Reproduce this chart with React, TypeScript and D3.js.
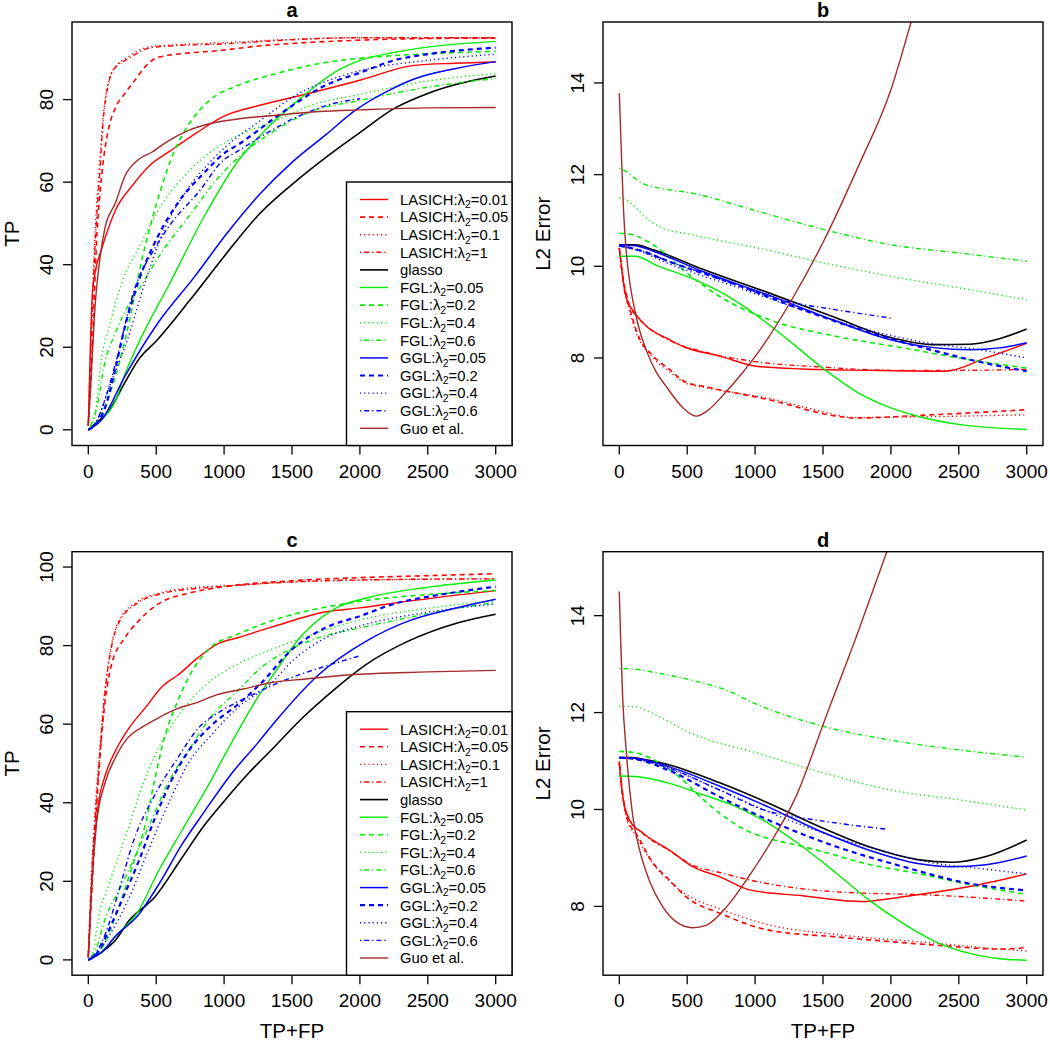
import React from 'react';
import * as d3 from 'd3';

type Pt = [number, number];

const FONT = "'Liberation Sans', Arial, Helvetica, sans-serif";

// tick values
const xTicks = [0, 500, 1000, 1500, 2000, 2500, 3000];
const tpTicksA = [0, 20, 40, 60, 80];
const tpTicksC = [0, 20, 40, 60, 80, 100];
const errTicks = [8, 10, 12, 14];

// legend / series definitions (same order in every panel)
const methodNames = ['LASICH', 'LASICH', 'LASICH', 'LASICH', 'glasso', 'FGL', 'FGL', 'FGL', 'FGL', 'GGL', 'GGL', 'GGL', 'GGL', 'Guo et al.'];
const lambdaValues = ['0.01', '0.05', '0.1', '1', '', '0.05', '0.2', '0.4', '0.6', '0.05', '0.2', '0.4', '0.6', ''];
const lineColors = ['#ff0000', '#ff0000', '#ff0000', '#ff0000', '#000000', '#00ee00', '#00ee00', '#00ee00', '#00ee00', '#0000ff', '#0000ff', '#0000ff', '#0000ff', '#a52a2a'];
const lineTypes = ['solid', 'dashed', 'dotted', 'dotdash', 'solid', 'solid', 'dashed', 'dotted', 'dotdash', 'solid', 'dashed', 'dotted', 'dotdash', 'solid'];
const lineWidths = [1.4, 1.6, 1.4, 1.4, 1.6, 1.4, 1.6, 1.4, 1.4, 1.5, 2.2, 1.4, 1.4, 1.4];

// panel a: TP vs TP+FP
const panelA: Pt[][] = [
  [[0, 1], [15, 20], [30, 33], [50, 38], [100, 44], [150, 49], [200, 53.2], [320, 59], [450, 64], [600, 67.5], [800, 72], [1000, 76], [1250, 78.5], [1500, 80.5], [2000, 84.7], [2400, 88.3], [2700, 88.8], [3000, 89.1]],
  [[0, 1], [30, 20], [60, 45], [100, 62], [150, 73], [200, 78], [270, 81.5], [350, 85], [420, 88], [520, 90.3], [1000, 92], [1260, 93], [1500, 93.6], [2000, 94.4], [2500, 94.8], [3000, 94.9]],
  [[0, 1], [20, 22], [50, 48], [80, 63], [110, 76], [150, 84.5], [180, 87], [300, 90.5], [450, 92.8], [600, 93.2], [1000, 93.8], [1500, 94.6], [2000, 95], [3000, 95]],
  [[0, 1], [20, 20], [50, 45], [80, 60], [110, 75], [150, 84], [180, 87], [300, 90], [450, 92.5], [600, 93], [1000, 93.5], [1500, 94.5], [2000, 95], [3000, 95]],
  [[0, 0], [50, 1.5], [150, 4.5], [270, 11.5], [370, 17], [500, 21.5], [750, 31.5], [1000, 42], [1260, 52.3], [1550, 60.8], [1750, 66], [2000, 72], [2250, 77.8], [2500, 81.5], [2750, 84], [3000, 85.7]],
  [[0, 0], [100, 2.5], [200, 7], [270, 13.5], [370, 21], [600, 35.5], [850, 51.5], [1100, 65], [1300, 72.5], [1550, 80], [1850, 87.3], [2000, 89.5], [2250, 91.4], [2500, 92.7], [3000, 94.1]],
  [[0, 0], [100, 4], [200, 13], [300, 26], [400, 42], [500, 54.5], [640, 68], [740, 74], [900, 80], [1100, 83.4], [1350, 86], [1750, 89], [2000, 90], [2500, 91.1], [3000, 91.7]],
  [[0, 0], [50, 4], [100, 18], [150, 24.5], [250, 36], [370, 44], [540, 54.5], [735, 62.5], [930, 68], [1150, 72], [1350, 74.5], [1630, 78.5], [2000, 81.3], [2500, 84.5], [3000, 86.3]],
  [[0, 0], [60, 5], [120, 16], [200, 23.5], [300, 30.5], [380, 34.5], [540, 43], [735, 51.5], [955, 61], [1150, 67.3], [1350, 72], [1630, 77], [2000, 79.8], [2500, 83], [3000, 85.1]],
  [[0, 0], [100, 2.5], [270, 13], [515, 26], [780, 37], [1030, 48], [1260, 57], [1500, 64.8], [1750, 71.5], [1970, 77.5], [2200, 82], [2400, 85], [2700, 87.5], [3000, 89.2]],
  [[0, 0], [60, 1.5], [120, 5], [200, 15], [270, 25], [370, 36], [515, 47], [660, 55], [860, 62.5], [1000, 67], [1100, 69], [1350, 75], [1500, 78.5], [1750, 83.5], [2000, 86.5], [2250, 89.5], [2500, 91], [3000, 92.6]],
  [[0, 0], [60, 2], [150, 10], [290, 22], [420, 36], [560, 48.5], [735, 58.5], [900, 65], [1100, 71], [1250, 74.5], [1350, 77], [1550, 81.5], [1800, 85], [2000, 87], [2500, 89.5], [3000, 91]],
  [[0, 0], [60, 2], [130, 8], [200, 16], [340, 34], [490, 44], [610, 50], [810, 57.5], [1000, 65.5], [1100, 67.5], [1320, 72], [1550, 76], [1800, 79], [2000, 80.2]],
  [[0, 1], [20, 12], [50, 30], [80, 40], [120, 48.5], [200, 55], [270, 61.5], [370, 65.5], [470, 67.3], [590, 70], [735, 72.5], [900, 74.2], [1100, 75.3], [1350, 76.1], [1700, 77.1], [2000, 77.5], [2500, 78], [3000, 78.1]],
];

// panel b: L2 error vs TP+FP
const panelB: Pt[][] = [
  [[0, 10.4], [50, 9.34], [125, 8.94], [200, 8.69], [370, 8.4], [470, 8.25], [740, 8.04], [1010, 7.82], [1350, 7.76], [1850, 7.73], [2400, 7.71], [2700, 8.0], [3000, 8.32]],
  [[0, 10.4], [30, 9.7], [60, 9.3], [125, 8.6], [250, 8.04], [370, 7.75], [490, 7.47], [620, 7.38], [1100, 7.09], [1600, 6.73], [1720, 6.69], [2300, 6.76], [3000, 6.87]],
  [[0, 10.4], [30, 9.65], [60, 9.2], [125, 8.55], [250, 8.0], [370, 7.7], [490, 7.45], [620, 7.36], [1100, 7.12], [1600, 6.76], [1720, 6.7], [2300, 6.72], [3000, 6.76]],
  [[0, 10.4], [50, 9.3], [125, 8.92], [200, 8.7], [370, 8.38], [600, 8.15], [1000, 7.92], [1500, 7.8], [2000, 7.73], [2500, 7.73], [3000, 7.75]],
  [[0, 10.47], [120, 10.47], [250, 10.36], [620, 9.93], [1100, 9.42], [1600, 8.87], [1970, 8.47], [2330, 8.29], [2580, 8.3], [2800, 8.42], [3000, 8.63]],
  [[0, 10.22], [115, 10.22], [290, 10.0], [530, 9.74], [780, 9.38], [1020, 8.91], [1270, 8.33], [1510, 7.75], [1760, 7.24], [2000, 6.91], [2250, 6.69], [2500, 6.55], [3000, 6.44]],
  [[0, 10.72], [80, 10.7], [250, 10.47], [500, 9.85], [740, 9.34], [1100, 8.84], [1600, 8.47], [2090, 8.22], [2580, 7.96], [3000, 7.78]],
  [[0, 11.49], [50, 11.45], [115, 11.3], [200, 11.05], [290, 10.87], [530, 10.69], [1020, 10.4], [1510, 10.07], [2000, 9.78], [2500, 9.53], [3000, 9.27]],
  [[0, 12.14], [60, 12.05], [115, 11.92], [165, 11.82], [290, 11.71], [530, 11.6], [1020, 11.2], [1510, 10.8], [2000, 10.47], [2500, 10.29], [3000, 10.11]],
  [[0, 10.47], [120, 10.45], [250, 10.33], [620, 9.88], [1100, 9.37], [1600, 8.8], [1970, 8.42], [2330, 8.22], [2580, 8.18], [2800, 8.22], [3000, 8.33]],
  [[0, 10.45], [150, 10.35], [370, 10.1], [860, 9.6], [1350, 9.05], [1850, 8.55], [2330, 8.15], [2600, 7.95], [3000, 7.71]],
  [[0, 10.45], [150, 10.33], [370, 10.05], [860, 9.55], [1350, 9.05], [1850, 8.6], [2330, 8.3], [2600, 8.2], [3000, 8.0]],
  [[0, 10.45], [150, 10.35], [370, 10.1], [620, 9.85], [1000, 9.45], [1230, 9.24], [1600, 9.05], [2000, 8.87]],
  [[0, 13.78], [15, 12.5], [30, 11.3], [50, 10.36], [75, 9.7], [110, 9.1], [150, 8.6], [200, 8.16], [270, 7.7], [345, 7.38], [470, 6.91], [567, 6.73], [650, 6.85], [780, 7.24], [900, 7.65], [1020, 8.11], [1270, 9.27], [1510, 10.58], [1760, 12.18], [2000, 13.85], [2150, 15.34], [2200, 15.85]],
];

// panel c: TP vs TP+FP
const panelC: Pt[][] = [
  [[0, 0.5], [20, 15], [40, 28], [75, 40], [120, 46.5], [200, 53.2], [300, 59], [420, 64.2], [550, 69.8], [660, 72.5], [810, 77], [950, 80.4], [1100, 82], [1350, 84.7], [1750, 88.6], [2000, 89.6], [2400, 91.5], [3000, 94]],
  [[0, 1], [30, 20], [70, 44], [110, 61.5], [170, 75], [270, 82], [370, 86.3], [515, 90.6], [760, 93.5], [1000, 95], [1500, 96.5], [2000, 97.3], [2500, 97.8], [3000, 98.3]],
  [[0, 1], [20, 20], [50, 38], [85, 54], [120, 68], [170, 80], [220, 86], [370, 91.4], [515, 93.3], [850, 95], [1000, 95.2], [1500, 96.2], [2000, 96.7], [3000, 97]],
  [[0, 1], [20, 18], [50, 36], [85, 52], [120, 67], [170, 79.5], [220, 85.5], [370, 91], [515, 93], [850, 94.7], [1000, 95.1], [1500, 96.2], [2000, 96.7], [3000, 97]],
  [[0, 0], [100, 2], [200, 5], [300, 10], [490, 16], [690, 26], [860, 34.5], [1000, 40.4], [1180, 47.5], [1350, 53.5], [1580, 61.7], [1800, 68.5], [2050, 75.3], [2360, 81.2], [2730, 85.9], [3000, 88]],
  [[0, 0], [100, 2], [200, 6], [370, 12.5], [515, 22.5], [690, 33], [860, 43], [1050, 55], [1260, 67.5], [1350, 72], [1580, 82.9], [1820, 89.5], [2070, 92.3], [2490, 94.8], [3000, 96.7]],
  [[0, 0], [100, 3], [200, 11], [320, 23.4], [420, 34.5], [490, 46], [560, 56.5], [660, 66], [780, 74.4], [900, 79.5], [1100, 82.9], [1350, 86.3], [1950, 91], [2500, 93], [3000, 94]],
  [[0, 0], [40, 3], [75, 10.7], [150, 19], [290, 33], [390, 43.5], [490, 52], [660, 62], [900, 71], [1100, 75.3], [1350, 79], [1750, 84], [2000, 86.5], [2500, 89.5], [3000, 91.4]],
  [[0, 0], [60, 3], [120, 10], [245, 19], [440, 33.6], [610, 46.5], [735, 53.2], [900, 61.7], [1100, 68.5], [1260, 74], [1630, 81.2], [2000, 84.5], [2240, 86.3], [2600, 88.8], [3000, 91]],
  [[0, 0], [100, 2], [200, 6], [370, 11.5], [515, 19], [690, 29.4], [860, 38], [1050, 47.2], [1250, 55.3], [1380, 60.8], [1700, 72.7], [2050, 81.2], [2360, 86.3], [2700, 89.5], [3000, 91.8]],
  [[0, 0], [60, 1.5], [130, 6], [245, 15], [370, 25], [490, 36], [610, 45.5], [735, 53], [900, 59.5], [1100, 65], [1260, 70], [1500, 79], [1750, 84.6], [2000, 87.5], [2240, 90.5], [2600, 93], [3000, 95]],
  [[0, 0], [60, 1.5], [150, 6], [290, 15], [440, 27.7], [610, 41.3], [735, 50], [900, 57], [1100, 64.2], [1350, 70.5], [1500, 76], [1750, 82], [2000, 85], [2500, 88.5], [3000, 90.6]],
  [[0, 0], [60, 2], [130, 7], [220, 17], [330, 30], [490, 42], [660, 51.5], [810, 59], [980, 63.4], [1180, 67], [1300, 69], [1500, 71.9], [1750, 74.8], [2000, 77.4]],
  [[0, 0.5], [25, 19], [60, 34.5], [120, 44.7], [200, 51.5], [290, 56.5], [390, 59.1], [510, 61.5], [660, 64], [800, 65.5], [950, 67.5], [1150, 69], [1350, 70.6], [1600, 71.5], [1900, 72.5], [2500, 73.3], [3000, 73.7]],
];

// panel d: L2 error vs TP+FP
const panelD: Pt[][] = [
  [[0, 10.99], [15, 10.5], [30, 10.2], [75, 9.78], [175, 9.51], [370, 9.16], [540, 8.82], [740, 8.61], [960, 8.34], [1350, 8.22], [1780, 8.1], [2090, 8.2], [2580, 8.41], [3000, 8.67]],
  [[0, 10.95], [30, 10.2], [60, 9.8], [125, 9.5], [250, 8.89], [370, 8.54], [490, 8.2], [740, 7.86], [1100, 7.51], [1600, 7.37], [2330, 7.2], [2800, 7.12], [3000, 7.15]],
  [[0, 10.95], [30, 10.15], [60, 9.75], [125, 9.45], [250, 8.87], [370, 8.52], [490, 8.25], [740, 7.95], [1100, 7.62], [1600, 7.42], [2330, 7.24], [2800, 7.12], [3000, 7.08]],
  [[0, 10.99], [30, 10.2], [75, 9.8], [175, 9.5], [370, 9.15], [540, 8.85], [740, 8.7], [1000, 8.52], [1600, 8.3], [2330, 8.23], [3000, 8.11]],
  [[0, 11.07], [100, 11.07], [170, 11.04], [370, 10.92], [740, 10.55], [1100, 10.13], [1480, 9.64], [1840, 9.23], [2210, 8.96], [2450, 8.91], [2700, 9.03], [3000, 9.37]],
  [[0, 10.69], [120, 10.68], [370, 10.54], [620, 10.3], [860, 10.06], [1100, 9.71], [1350, 9.23], [1600, 8.68], [1840, 8.13], [2090, 7.65], [2330, 7.27], [2580, 7.03], [2800, 6.92], [3000, 6.89]],
  [[0, 11.2], [120, 11.17], [290, 10.97], [450, 10.65], [600, 10.25], [750, 9.9], [900, 9.62], [1100, 9.4], [1300, 9.27], [1600, 9.05], [1760, 8.92], [2250, 8.65], [2580, 8.45], [3000, 8.25]],
  [[0, 12.13], [110, 12.12], [290, 11.92], [530, 11.57], [1020, 11.16], [1510, 10.75], [2000, 10.4], [2500, 10.2], [3000, 9.99]],
  [[0, 12.91], [100, 12.9], [290, 12.81], [530, 12.67], [780, 12.47], [1020, 12.16], [1510, 11.71], [2000, 11.43], [2500, 11.23], [3000, 11.08]],
  [[0, 11.07], [100, 11.06], [170, 11.03], [370, 10.88], [740, 10.48], [1100, 10.05], [1480, 9.55], [1840, 9.16], [2210, 8.88], [2450, 8.82], [2700, 8.86], [3000, 9.04]],
  [[0, 11.07], [100, 11.05], [370, 10.8], [740, 10.26], [1100, 9.78], [1600, 9.23], [2090, 8.82], [2580, 8.47], [3000, 8.33]],
  [[0, 11.07], [100, 11.05], [370, 10.84], [740, 10.4], [1100, 9.95], [1600, 9.42], [2000, 9.1], [2300, 8.9], [2600, 8.8], [3000, 8.67]],
  [[0, 11.07], [100, 11.05], [370, 10.85], [740, 10.4], [1100, 9.96], [1300, 9.85], [1600, 9.72], [1980, 9.59]],
  [[0, 14.5], [10, 13.5], [25, 12.3], [50, 11.25], [100, 9.85], [150, 9.16], [220, 8.54], [320, 7.99], [420, 7.68], [540, 7.56], [640, 7.61], [790, 7.99], [935, 8.54], [1110, 9.3], [1300, 10.26], [1520, 11.9], [1750, 13.6], [1970, 15.32], [2020, 15.7]],
];

const dashFor: Record<string, string | undefined> = {
  solid: undefined,
  dashed: '5,4',
  dotted: '1.2,3',
  dotdash: '1.2,3,5,3',
};

interface PanelProps {
  id: string;
  left: number;
  top: number;
  yDomain: [number, number];
  yTicks: number[];
  series: Pt[][];
  title: string;
  yLabel: string;
  xLabel?: string;
  legend?: boolean;
}

function Panel(p: PanelProps) {
  const w = 440;
  const h = 423.5;
  const bottom = p.top + h;
  const x = d3.scaleLinear().domain([-120, 3120]).range([p.left, p.left + w]);
  const y = d3.scaleLinear().domain(p.yDomain).range([bottom, p.top]);
  const line = d3.line<Pt>().x(d => x(d[0])).y(d => y(d[1])).curve(d3.curveMonotoneX);
  const cx = p.left + w / 2;
  const cy = p.top + h / 2;

  // legend geometry
  const lgLeft = p.left + 274.5;
  const lgTop = p.top + 160;
  const rowY = (i: number) => p.top + 177.5 + i * 17.6;

  return (
    <g>
      <defs>
        <clipPath id={`clip-${p.id}`}>
          <rect x={p.left} y={p.top} width={w} height={h} />
        </clipPath>
      </defs>
      <g clipPath={`url(#clip-${p.id})`}>
        {p.series.map((s, i) => (
          <path
            key={i}
            d={line(s) ?? ''}
            fill="none"
            stroke={lineColors[i]}
            strokeWidth={lineWidths[i]}
            strokeDasharray={dashFor[lineTypes[i]]}
          />
        ))}
      </g>
      <rect x={p.left} y={p.top} width={w} height={h} fill="none" stroke="#000" strokeWidth={1.4} />

      {/* x axis */}
      {xTicks.map(t => (
        <g key={t}>
          <line x1={x(t)} x2={x(t)} y1={bottom} y2={bottom + 9} stroke="#000" strokeWidth={1.3} />
          <text x={x(t)} y={bottom + 32} textAnchor="middle" fontSize={19}>{t}</text>
        </g>
      ))}
      {/* y axis */}
      {p.yTicks.map(t => (
        <g key={t}>
          <line x1={p.left - 9} x2={p.left} y1={y(t)} y2={y(t)} stroke="#000" strokeWidth={1.3} />
          <text
            transform={`translate(${p.left - 19},${y(t)}) rotate(-90)`}
            textAnchor="middle"
            fontSize={19}
          >
            {t}
          </text>
        </g>
      ))}

      <text x={cx} y={p.top - 5} textAnchor="middle" fontSize={20} fontWeight="bold">{p.title}</text>
      <text transform={`translate(${p.left - 53},${cy}) rotate(-90)`} textAnchor="middle" fontSize={20.5}>{p.yLabel}</text>
      {p.xLabel && (
        <text x={cx} y={bottom + 63} textAnchor="middle" fontSize={20.5}>{p.xLabel}</text>
      )}

      {p.legend && (
        <g>
          <rect x={lgLeft} y={lgTop} width={p.left + w - lgLeft} height={bottom - lgTop} fill="#fff" stroke="#000" strokeWidth={1.4} />
          {methodNames.map((name, i) => (
            <g key={i}>
              <line
                x1={p.left + 288}
                x2={p.left + 316}
                y1={rowY(i)}
                y2={rowY(i)}
                stroke={lineColors[i]}
                strokeWidth={lineWidths[i]}
                strokeDasharray={dashFor[lineTypes[i]]}
              />
              <text x={p.left + 328} y={rowY(i) + 5.3} fontSize={14.8}>
                {lambdaValues[i] ? (
                  <>
                    {name}:λ<tspan dy={3.5} fontSize={10.5}>2</tspan>
                    <tspan dy={-3.5}>={lambdaValues[i]}</tspan>
                  </>
                ) : (
                  name
                )}
              </text>
            </g>
          ))}
        </g>
      )}
    </g>
  );
}

export default function App() {
  return (
    <svg
      width={1050}
      height={1044}
      style={{ position: 'absolute', left: 0, top: 0, background: '#fff' }}
      fontFamily={FONT}
    >
      <rect width={1050} height={1044} fill="#fff" />
      <Panel id="a" left={72} top={22} yDomain={[-3.8, 98.8]} yTicks={tpTicksA} series={panelA} title="a" yLabel="TP" legend />
      <Panel id="b" left={603} top={22} yDomain={[6.09, 15.33]} yTicks={errTicks} series={panelB} title="b" yLabel="L2 Error" />
      <Panel id="c" left={72} top={551.7} yDomain={[-3.9, 103.9]} yTicks={tpTicksC} series={panelC} title="c" yLabel="TP" xLabel="TP+FP" legend />
      <Panel id="d" left={603} top={551.7} yDomain={[6.58, 15.32]} yTicks={errTicks} series={panelD} title="d" yLabel="L2 Error" xLabel="TP+FP" />
    </svg>
  );
}
